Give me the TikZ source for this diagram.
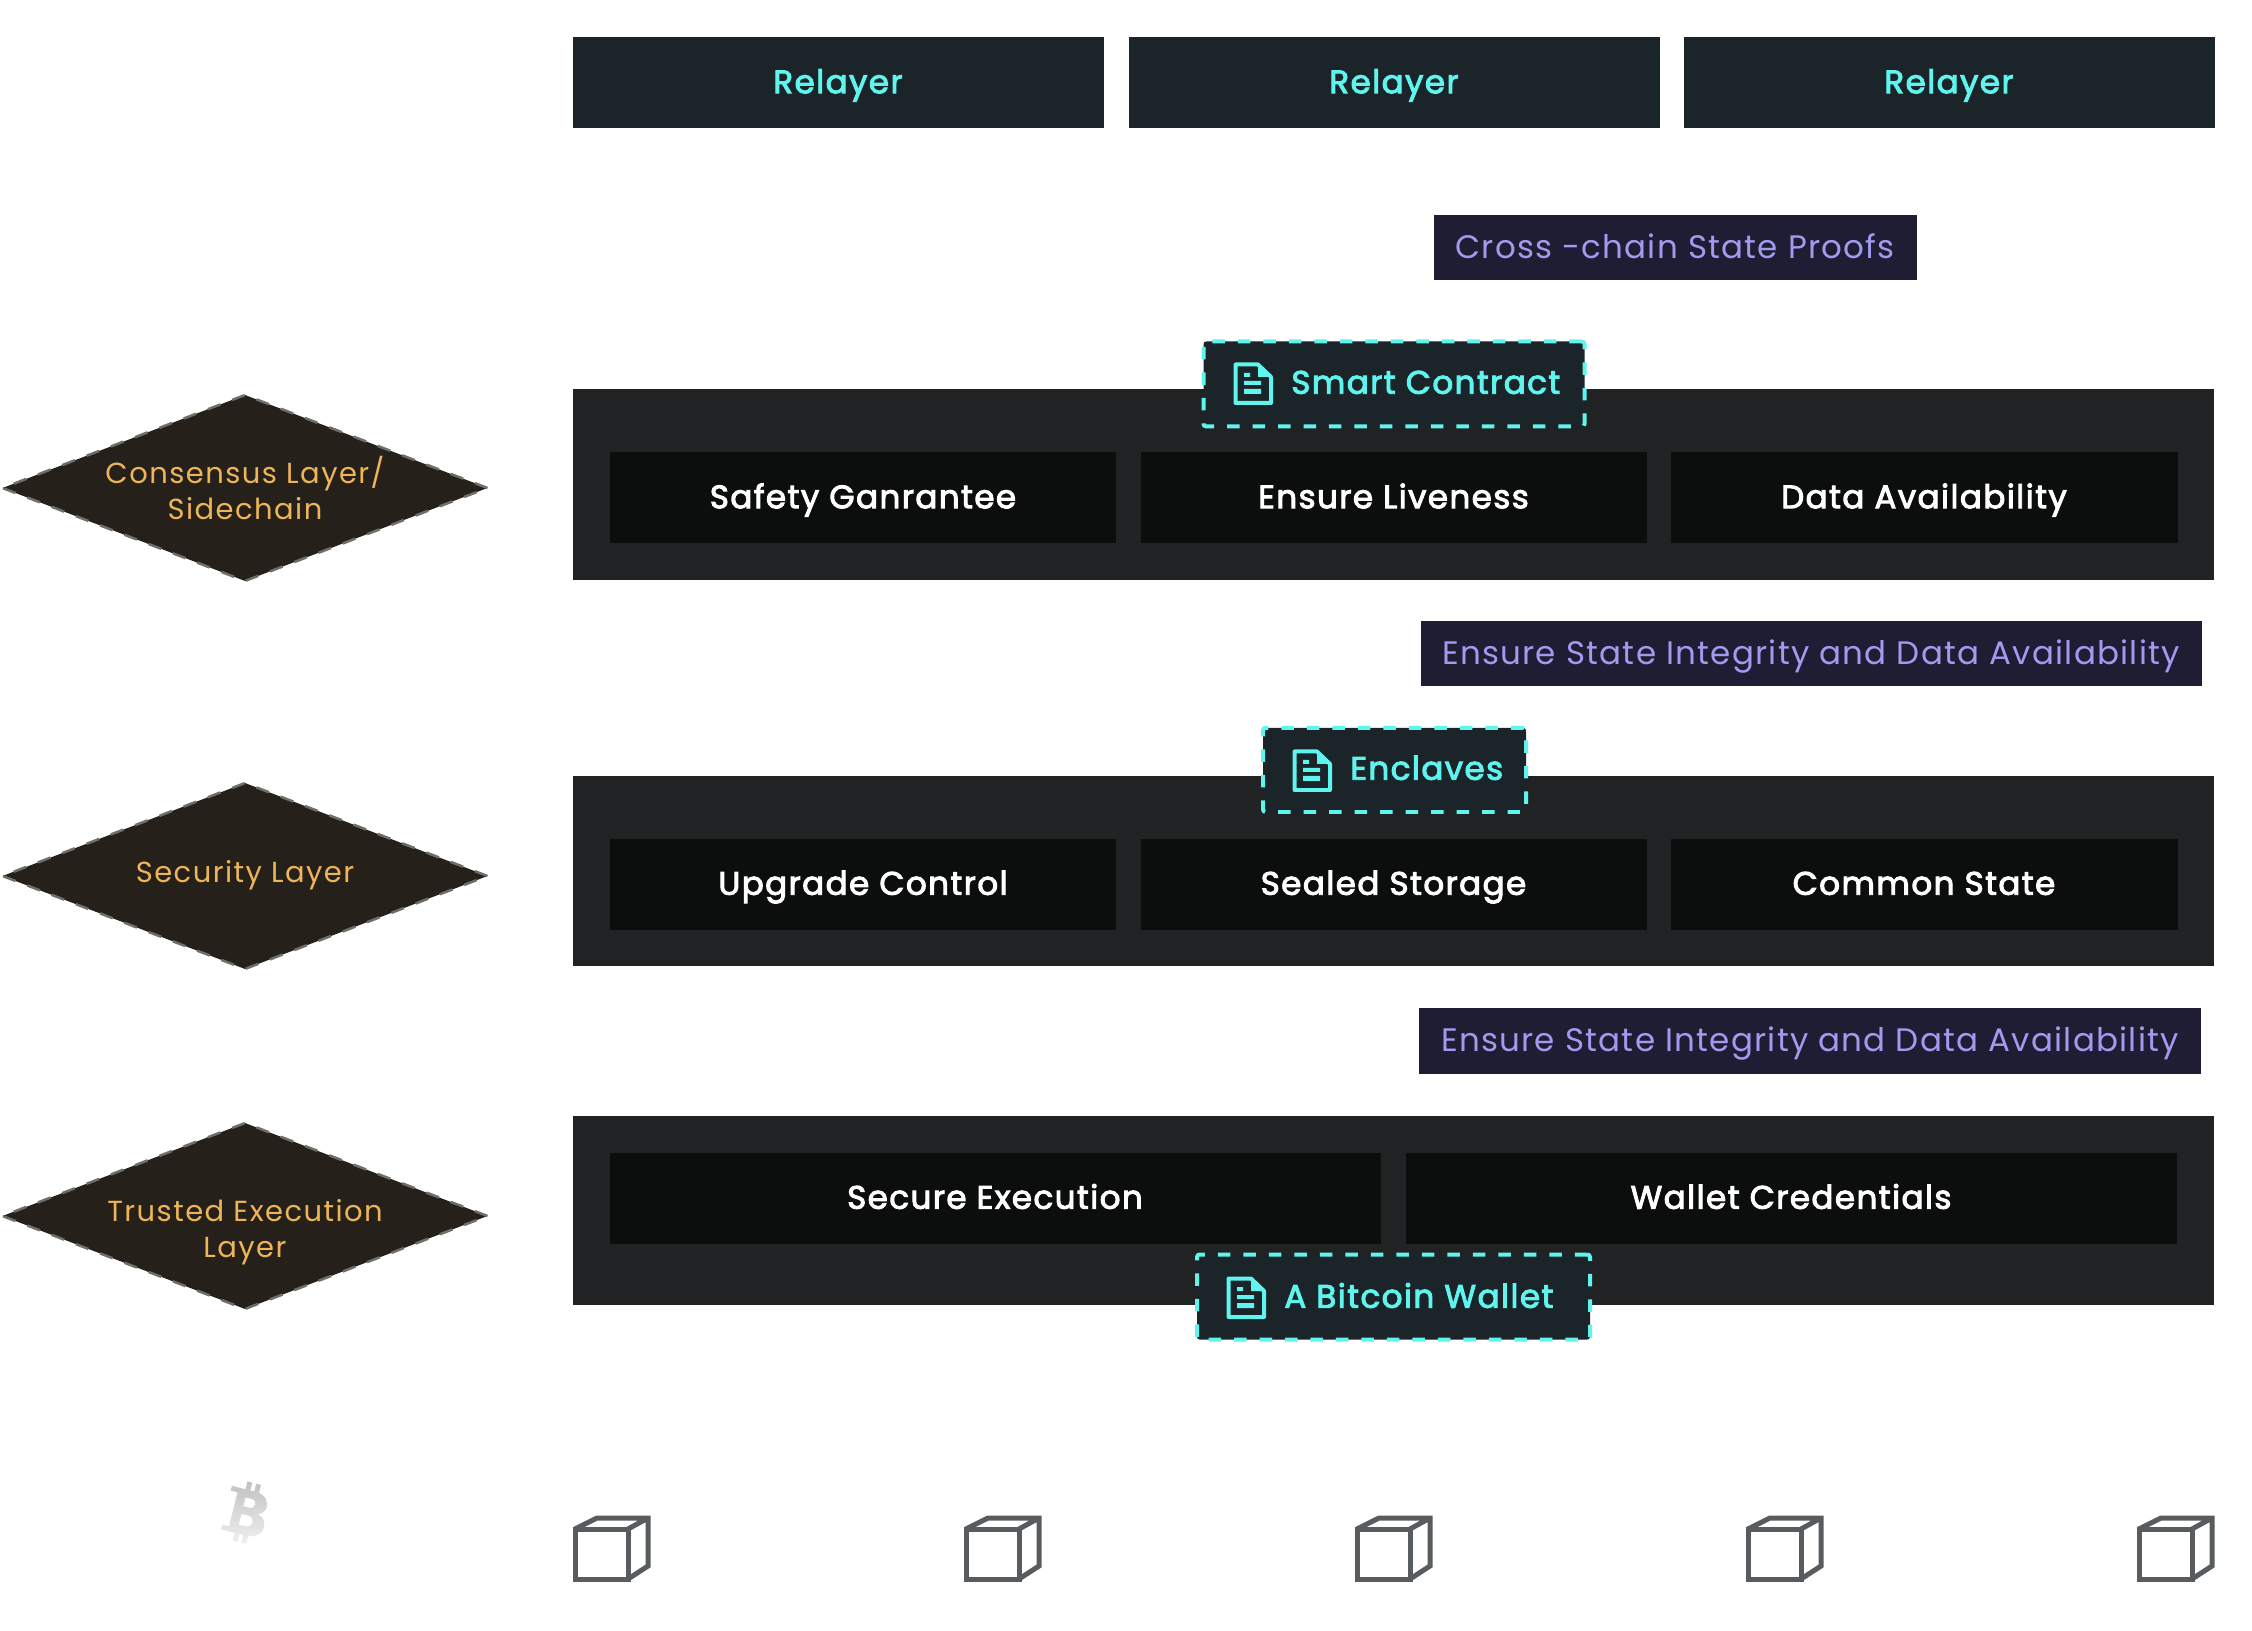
\documentclass[tikz,border=0pt]{standalone}
\usepackage{fontspec}
\setmainfont{Poppins}
\newfontfamily\boxfont{Poppins}[FakeBold=3,LetterSpace=4.5]
\newfontfamily\spacedfont{Poppins}[LetterSpace=4]
\newfontfamily\layerfont{Poppins}[LetterSpace=5]
\usetikzlibrary{shapes.geometric}
\definecolor{cyantext}{HTML}{5FF5EE}
\definecolor{relayfill}{HTML}{1A2429}
\definecolor{proofback}{HTML}{1F1D33}
\definecolor{prooftext}{HTML}{A19BF0}
\definecolor{panelfill}{HTML}{202224}
\definecolor{cellfill}{HTML}{0C0D0D}
\definecolor{layerfill}{HTML}{25201A}
\definecolor{layeredge}{HTML}{6E6E6A}
\definecolor{layertext}{HTML}{EDB458}
\definecolor{cubegray}{HTML}{585C5E}
\tikzset{
  boxsize/.style 2 args={minimum width=#1*0.02cm, minimum height=#2*0.02cm},
  labeltext/.style={font=\boxfont\fontsize{18.5}{23}\selectfont, text height=0.55cm, text depth=0.12cm, inner sep=0pt},
  relaybox/.style={labeltext, fill=relayfill, text=cyantext},
  proofbox/.style={labeltext, font=\spacedfont\fontsize{18.5}{23}\selectfont, fill=proofback, text=prooftext},
  panelbox/.style={fill=panelfill, inner sep=0pt},
  cellbox/.style={labeltext, fill=cellfill, text=white},
  dashbox/.style={draw=cyantext, fill=relayfill, line width=0.08cm, rounded corners=1.5pt,
    dash pattern=on 0.25cm off 0.26cm},
  dashtext/.style={labeltext, text=cyantext, anchor=west},
  layerbox/.style={diamond, fill=layerfill, draw=layeredge, line width=0.05cm,
    dash pattern=on 0.27cm off 0.25cm, aspect=2.6, inner sep=0pt, boxsize={486}{187}},
  layerlabel/.style={text=layertext, align=center, inner sep=0pt,
    font=\layerfont\fontsize{16.5}{20.5}\selectfont},
  docicon/.pic={
    \draw[cyantext, line width=0.08cm, line join=round] (1.5,1.5) -- (24,1.5) -- (37,14) -- (37,40) -- (1.5,40) -- cycle;
    \fill[cyantext] (24,1.5) -- (37,14) -- (24,14) -- cycle;
    \fill[cyantext] (10,10) rectangle (16,14) (10,18) rectangle (27,22) (10,26) rectangle (27,31);
  },
  blockicon/.pic={
    \draw[cubegray, line width=0.1cm, line join=miter] (2,14) rectangle (55,64);
    \draw[cubegray, line width=0.1cm, line join=miter] (2,14) -- (24,3) -- (75,3) -- (75,51) -- (55,64) (55,14) -- (75,3);
  }
}
\begin{document}
\begin{tikzpicture}[x=0.02cm,y=-0.02cm]
  \useasboundingbox (0,0) rectangle (2252,1631);

  % relayers along the top
  \foreach \x/\name in {838/relayA,1394/relayB,1949/relayC} {
    \node[relaybox, boxsize={531}{91}] (\name) at (\x,82.5) {Relayer};
  }

  % proof labels between the layers
  \node[proofbox, boxsize={483}{65}] (proofA) at (1675,247.5) {Cross -chain State Proofs};
  \node[proofbox, boxsize={781}{65}] (proofB) at (1811,653.5) {Ensure State Integrity and Data Availability};
  \node[proofbox, boxsize={782}{66}] (proofC) at (1810,1041) {Ensure State Integrity and Data Availability};

  % consensus layer
  \node[layerbox] (consensus) at (245,488) {};
  \node[layerlabel] (consensusText) at (245,488) {Consensus Layer/\\Sidechain};
  \node[panelbox, boxsize={1641}{191}] (panelA) at (1393.5,485) {};
  \node[cellbox, boxsize={506}{91}] (safety) at (863,497.5) {Safety Ganrantee};
  \node[cellbox, boxsize={506}{91}] (liveness) at (1393.5,497.5) {Ensure Liveness};
  \node[cellbox, boxsize={507}{91}] (availability) at (1924,497.5) {Data Availability};
  \node[dashbox, boxsize={381}{85}] (contract) at (1394,384) {};
  \pic at (1234,363) {docicon};
  \node[dashtext] (contractText) at (1291,383) {Smart Contract};

  % security layer
  \node[layerbox] (security) at (245,876) {};
  \node[layerlabel] (securityText) at (245,875) {Security Layer};
  \node[panelbox, boxsize={1641}{189}] (panelB) at (1393.5,871) {};
  \node[cellbox, boxsize={506}{91}] (upgrade) at (863,884) {Upgrade Control};
  \node[cellbox, boxsize={506}{91}] (sealed) at (1393.5,884) {Sealed Storage};
  \node[cellbox, boxsize={507}{91}] (common) at (1924,884) {Common State};
  \node[dashbox, boxsize={263}{84}] (enclaves) at (1394.5,770) {};
  \pic at (1293,750) {docicon};
  \node[dashtext] (enclavesText) at (1350,769) {Enclaves};

  % trusted execution layer
  \node[layerbox] (trusted) at (245,1216) {};
  \node[layerlabel] (trustedText) at (245,1232) {Trusted Execution\\Layer};
  \node[panelbox, boxsize={1641}{189}] (panelC) at (1393.5,1210) {};
  \node[cellbox, boxsize={771}{91}] (execution) at (995,1198) {Secure Execution};
  \node[cellbox, boxsize={771}{91}] (credentials) at (1791,1198) {Wallet Credentials};
  \node[dashbox, boxsize={393}{85}] (wallet) at (1393.5,1297) {};
  \pic at (1227,1277) {docicon};
  \node[dashtext] (walletText) at (1284,1297) {A Bitcoin Wallet};

  % bitcoin mark
  \begin{scope}[shift={(246,1512)}, rotate=-14]
    \shade[top color=black!24, bottom color=black!6, even odd rule]
      (-20,-22) -- (4,-22) .. controls (15,-22) and (19,-15) .. (19,-10)
        .. controls (19,-5) and (16,-2) .. (12,-1) .. controls (18,1) and (21,5) .. (21,10)
        .. controls (21,18) and (15,23) .. (5,23) -- (-20,23) -- (-20,18) -- (-13,18)
        -- (-13,-17) -- (-20,-17) -- cycle
      (-4,-14) -- (2,-14) .. controls (9,-14) and (9,-5) .. (2,-5) -- (-4,-5) -- cycle
      (-4,3) -- (3,3) .. controls (11,3) and (11,14) .. (3,14) -- (-4,14) -- cycle
      (-6,-30) rectangle (-1,-22) (3,-30) rectangle (8,-22)
      (-6,23) rectangle (-1,31) (3,23) rectangle (8,31);
  \end{scope}

  % bitcoin blocks
  \foreach \x in {573,964,1355,1746,2137} {
    \pic at (\x,1515) {blockicon};
  }
\end{tikzpicture}
\end{document}
